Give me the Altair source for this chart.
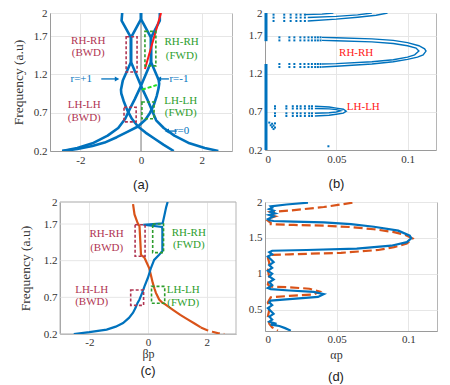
import altair as alt
import pandas as pd

BLUE = "#0072BD"
ORANGE = "#D95319"
DARKRED = "#b03552"
GREEN = "#2e9e2e"
FRAME = "#b5b5b5"
GRID = "#e6e6e6"
SERIF = "Liberation Serif, Times New Roman, DejaVu Serif, serif"
SANS = "Liberation Sans, Arial, sans-serif"

# ---------------- panel (a): dispersion braid ----------------
A_S1 = [(-2.6, 0.2), (-2.1, 0.225), (-1.6, 0.265), (-1.2, 0.31), (-0.8, 0.38), (-0.45, 0.45),
        (-0.1, 0.52), (0.15, 0.61), (0.3, 0.7), (0.42, 0.8), (0.52, 0.92), (0.58, 1.02),
        (0.6, 1.08), (0.58, 1.13), (0.33, 1.36), (0.33, 1.68), (0.62, 1.9), (0.62, 2.0)]
A_S2 = [(1.08, 0.2), (0.75, 0.28), (0.45, 0.36), (0.15, 0.44), (-0.1, 0.52), (-0.3, 0.62),
        (-0.45, 0.73), (-0.57, 0.85), (-0.65, 0.95), (-0.66, 1.0), (-0.6, 1.12), (-0.33, 1.36),
        (-0.33, 1.68), (-0.64, 1.9), (-0.62, 2.0)]
A_S3 = [(0.0, 2.0), (0.0, 1.92), (0.33, 1.68), (0.33, 1.36), (0.0, 1.05), (-0.2, 0.88),
        (-0.38, 0.74), (-0.52, 0.62), (-0.75, 0.5), (-1.1, 0.4), (-1.6, 0.3), (-2.1, 0.24), (-2.6, 0.2)]
A_S4 = [(0.0, 2.0), (0.0, 1.92), (-0.33, 1.68), (-0.33, 1.36), (0.0, 1.05), (0.2, 0.88),
        (0.35, 0.74), (0.5, 0.6), (0.75, 0.5), (1.1, 0.4), (1.6, 0.3), (2.1, 0.24), (2.55, 0.2)]
A_RED = [(0.13, 1.27), (0.66, 2.0)]
A_GREEN = [(0.03, 1.0), (0.52, 1.06)]
# boxes: x0, x1, f0, f1, colour key
A_BOXES = [(-0.49, -0.13, 1.23, 1.69, "r"), (0.13, 0.49, 1.31, 1.76, "g"),
           (-0.56, -0.16, 0.58, 0.77, "r"), (0.03, 0.43, 0.62, 0.84, "g")]
A_LABELS = [("RH-RH", -1.74, 1.63, "r"), ("(BWD)", -1.74, 1.48, "r"),
            ("RH-RH", 1.34, 1.62, "g"), ("(FWD)", 1.34, 1.44, "g"),
            ("LH-LH", -1.87, 0.80, "r"), ("(BWD)", -1.87, 0.63, "r"),
            ("LH-LH", 1.31, 0.85, "g"), ("(FWD)", 1.31, 0.70, "g"),
            ("r=+1", -1.97, 1.14, "b"), ("r=-1", 1.25, 1.14, "b"), ("r=0", 1.34, 0.46, "b")]
# arrows: tail x, tip x, f
A_ARROWS = [(-1.31, -0.79, 1.14), (0.92, 0.59, 1.14), (1.18, 0.85, 0.46)]

# ---------------- panel (b): attenuation dots ----------------
B_RH_OUTER = [(0.04, 1.68), (0.05, 1.675), (0.075, 1.66), (0.09, 1.64), (0.1, 1.61), (0.108, 1.57),
              (0.112, 1.53), (0.113, 1.5), (0.111, 1.45), (0.107, 1.42), (0.1, 1.39), (0.09, 1.36),
              (0.075, 1.33), (0.05, 1.30), (0.04, 1.29)]
B_RH_INNER = [(0.04, 1.64), (0.05, 1.635), (0.075, 1.62), (0.09, 1.60), (0.1, 1.57), (0.106, 1.54),
              (0.108, 1.5), (0.105, 1.45), (0.1, 1.42), (0.09, 1.385), (0.075, 1.36), (0.05, 1.335),
              (0.04, 1.33)]
B_TOP_A = [(0.03, 1.895), (0.05, 1.92), (0.065, 1.945), (0.078, 1.97), (0.086, 2.0)]
B_TOP_B = [(0.03, 1.94), (0.05, 1.955), (0.065, 1.975), (0.075, 2.0)]
B_TOP_C = [(0.028, 1.978), (0.04, 1.985), (0.048, 2.0)]
B_LH_OUTER = [(0.035, 0.775), (0.045, 0.765), (0.05, 0.75), (0.055, 0.735), (0.057, 0.71),
              (0.055, 0.685), (0.05, 0.67), (0.045, 0.657), (0.035, 0.647)]
B_LH_INNER = [(0.035, 0.745), (0.045, 0.74), (0.05, 0.73), (0.053, 0.715), (0.05, 0.70),
              (0.045, 0.69), (0.035, 0.682)]
B_ROW_ALPHA_RH = [0.0101, 0.0171, 0.0206, 0.0248, 0.0277, 0.0305, 0.0329, 0.0352, 0.0371, 0.039]
B_ROW_F_RH = [1.68, 1.64, 1.33, 1.29]
B_ROW_ALPHA_TOP = [0.006, 0.0135, 0.018, 0.022, 0.025, 0.028]
B_ROW_F_TOP = [1.895, 1.94, 1.978]
B_ROW_ALPHA_LH = [0.007, 0.015, 0.0195, 0.0225, 0.025, 0.028, 0.031, 0.033]
B_ROW_F_LH = [0.775, 0.745, 0.682, 0.647]
B_EXTRA_DOTS = [(0.003, 0.56), (0.005, 0.545), (0.007, 0.55), (0.004, 0.525), (0.006, 0.52),
                (0.005, 0.5), (0.007, 0.495), (0.006, 0.475), (0.0445, 0.249)]
B_ZERO_SEGMENTS = [(0.2, 1.33), (1.63, 2.0)]
B_LABELS = [("RH-RH", 0.064, 1.475), ("LH-LH", 0.069, 0.765)]

# ---------------- panel (c): selected branches ----------------
C_BLUE = [(-2.53, 0.2), (-2.0, 0.225), (-1.41, 0.26), (-1.1, 0.3), (-0.85, 0.35), (-0.65, 0.42),
          (-0.51, 0.49), (-0.42, 0.56), (-0.36, 0.62), (-0.29, 0.67), (-0.2, 0.76), (-0.12, 0.85),
          (0.0, 0.97), (0.1, 1.1), (0.21, 1.21), (0.38, 1.28), (0.49, 1.33), (0.49, 1.62),
          (0.48, 1.66), (-0.16, 1.69), (0.5, 1.71), (0.56, 1.82), (0.62, 1.93), (0.67, 2.0)]
C_ORANGE = [(-0.51, 1.97), (-0.46, 1.83), (-0.35, 1.71), (-0.29, 1.67), (-0.26, 1.45), (-0.24, 1.28),
            (-0.12, 1.24), (0.04, 1.1), (0.1, 1.0), (0.16, 0.9), (0.22, 0.82), (0.27, 0.76),
            (0.33, 0.71), (0.38, 0.67), (0.48, 0.63), (0.6, 0.6), (0.85, 0.53), (1.1, 0.46),
            (1.35, 0.4), (1.6, 0.34), (1.8, 0.29)]
C_ORANGE_TAIL = [(1.8, 0.29), (2.0, 0.255), (2.2, 0.23), (2.4, 0.21), (2.6, 0.2)]
C_BOXES = [(-0.44, -0.1, 1.26, 1.69, "r"), (0.16, 0.53, 1.31, 1.70, "g"),
           (-0.59, -0.15, 0.59, 0.80, "r"), (0.12, 0.57, 0.62, 0.85, "g")]
C_LABELS = [("RH-RH", -1.41, 1.56, "r"), ("(BWD)", -1.41, 1.37, "r"),
            ("RH-RH", 1.39, 1.58, "g"), ("(FWD)", 1.39, 1.41, "g"),
            ("LH-LH", -1.92, 0.80, "r"), ("(BWD)", -1.92, 0.64, "r"),
            ("LH-LH", 1.2, 0.80, "g"), ("(FWD)", 1.2, 0.62, "g")]

# ---------------- panel (d): attenuation curves ----------------
D_BLUE = [(0.030, 1.99), (0.015, 1.965), (0.004, 1.94), (0.005, 1.92), (0.003, 1.9), (0.006, 1.88),
          (0.004, 1.86), (0.007, 1.84), (0.003, 1.82), (0.006, 1.8), (0.004, 1.78), (0.002, 1.76),
          (0.003, 1.745), (0.006, 1.735), (0.02, 1.725), (0.041, 1.715), (0.06, 1.69), (0.076, 1.655),
          (0.093, 1.6), (0.101, 1.53), (0.102, 1.495), (0.099, 1.44), (0.088, 1.39), (0.064, 1.35),
          (0.029, 1.33), (0.005, 1.32), (0.003, 1.3), (0.005, 1.27), (0.002, 1.24), (0.004, 1.2),
          (0.006, 1.16), (0.003, 1.12), (0.005, 1.08), (0.002, 1.04), (0.005, 1.0), (0.003, 0.96),
          (0.006, 0.92), (0.003, 0.88), (0.005, 0.84), (0.002, 0.8), (0.004, 0.785), (0.017, 0.765),
          (0.034, 0.745), (0.041, 0.715), (0.037, 0.675), (0.017, 0.645), (0.004, 0.625), (0.003, 0.6),
          (0.005, 0.56), (0.002, 0.52), (0.004, 0.48), (0.006, 0.44), (0.003, 0.4), (0.005, 0.36),
          (0.003, 0.33), (0.008, 0.3), (0.004, 0.29), (0.01, 0.27), (0.014, 0.24), (0.018, 0.205)]
D_ORANGE = [(0.061, 1.99), (0.041, 1.93), (0.017, 1.88), (0.004, 1.86), (0.006, 1.84), (0.003, 1.82),
            (0.007, 1.8), (0.004, 1.78), (0.005, 1.76), (0.002, 1.74), (0.004, 1.71), (0.004, 1.69),
            (0.02, 1.68), (0.041, 1.67), (0.06, 1.65), (0.076, 1.62), (0.09, 1.58), (0.098, 1.54),
            (0.103, 1.49), (0.099, 1.42), (0.09, 1.37), (0.079, 1.33), (0.053, 1.29), (0.017, 1.27),
            (0.003, 1.26), (0.002, 1.22), (0.003, 1.15), (0.002, 1.05), (0.003, 0.95), (0.002, 0.85),
            (0.004, 0.82), (0.017, 0.81), (0.031, 0.79), (0.038, 0.75), (0.034, 0.71), (0.017, 0.69),
            (0.004, 0.67), (0.002, 0.6), (0.003, 0.5), (0.002, 0.4), (0.003, 0.3), (0.005, 0.25),
            (0.009, 0.205)]

F_TICKS_ABC = [0.2, 0.7, 1.2, 1.7, 2]
F_TICKS_D = [0.5, 1, 1.5, 2]
BETA_TICKS = [-2, 0, 2]
ALPHA_TICKS = [0, 0.05, 0.1]

COLORS = {"r": DARKRED, "g": GREEN, "b": BLUE}


def lines_df(strands):
    rows = []
    for name, pts in strands.items():
        for i, (x, f) in enumerate(pts):
            rows.append({"s": name, "i": i, "x": x, "f": f})
    return pd.DataFrame(rows)


def boxes_df(boxes):
    return pd.DataFrame([{"x0": a, "x1": b, "f0": c, "f1": d, "c": COLORS[k]} for a, b, c, d, k in boxes])


def labels_df(labels):
    return pd.DataFrame([{"t": t, "x": x, "f": f, "c": COLORS[k]} for t, x, f, k in labels])


YF = alt.Scale(domain=[0.2, 2], nice=False, zero=False)
XA = alt.Scale(domain=[0, 0.12], nice=False, zero=False)
XB = alt.Scale(domain=[-3, 3], nice=False, zero=False)
# panel (c): plot frame starts 10 px to the right of the column origin
C_W = 186
C_SHIFT = 10
XC = alt.Scale(domain=[-3, 3], nice=False, zero=False, range=[C_SHIFT, C_W])


def xenc(field, scale, ticks, title=None, titlex=None, tpad=0, lpad=3):
    kw = dict(values=ticks, labelExpr="datum.value", grid=True, ticks=False, labelPadding=lpad)
    if title:
        kw["title"] = title
        kw["titlePadding"] = tpad
        kw["titleFontSize"] = 12
        if titlex is not None:
            kw["titleX"] = titlex
    else:
        kw["title"] = None
    return alt.X(field, type="quantitative", scale=scale, axis=alt.Axis(**kw))


def yenc(field, ticks, title=None, tpad=8, lpad=3, grid=True, offset=0):
    kw = dict(values=ticks, labelExpr="datum.value", grid=grid, ticks=False, labelPadding=lpad)
    if offset:
        kw["offset"] = offset
    if title:
        kw["title"] = title
        kw["titlePadding"] = tpad
    else:
        kw["title"] = None
    return alt.Y(field, type="quantitative", scale=YF, axis=alt.Axis(**kw))


def caption(txt, offset, dx=0):
    return alt.TitleParams(txt, orient="bottom", font=SANS, fontSize=13, fontWeight="normal",
                           color="#222", offset=offset, dx=dx)


LABEL_FS = 11

# ---------- (a) ----------
XS_A = lambda f: xenc(f, XB, BETA_TICKS)
YS_A = lambda f: yenc(f, F_TICKS_ABC, "Frequency (a.u)", 8)

a_zero = alt.Chart(pd.DataFrame({"x": [0.0], "f0": [0.2], "f1": [2.0]})).mark_rule(
    color="#a8a8a8", strokeWidth=1.5).encode(x=XS_A("x"), y=YS_A("f0"), y2="f1")
a_lines = alt.Chart(lines_df({"s1": A_S1, "s2": A_S2, "s3": A_S3, "s4": A_S4})).mark_line(
    color=BLUE, strokeWidth=2.6, clip=True, strokeJoin="round").encode(
    x=XS_A("x"), y=YS_A("f"), detail="s:N", order="i:Q")
a_red = alt.Chart(lines_df({"r": A_RED})).mark_line(color="#ff1a1a", strokeWidth=2, clip=True).encode(
    x=XS_A("x"), y=YS_A("f"), order="i:Q")
a_green = alt.Chart(lines_df({"g": A_GREEN})).mark_line(color="#22dd22", strokeWidth=2,
                                                        strokeDash=[4, 2]).encode(
    x=XS_A("x"), y=YS_A("f"), order="i:Q")
a_boxes = alt.Chart(boxes_df(A_BOXES)).mark_rect(fillOpacity=0, strokeWidth=1.6, strokeDash=[3, 2]).encode(
    x=XS_A("x0"), x2="x1", y=YS_A("f0"), y2="f1", stroke=alt.Stroke("c:N", scale=None))
a_text = alt.Chart(labels_df(A_LABELS)).mark_text(font=SERIF, fontSize=LABEL_FS).encode(
    x=XS_A("x"), y=YS_A("f"), text="t:N", color=alt.Color("c:N", scale=None))
arrow_df = pd.DataFrame([{"x0": a, "x1": b, "f": f, "shape": "triangle-right" if b > a else "triangle-left"}
                         for a, b, f in A_ARROWS])
a_shaft = alt.Chart(arrow_df).mark_rule(color=BLUE, strokeWidth=1.3).encode(
    x=XS_A("x0"), x2="x1", y=YS_A("f"))
a_head = alt.Chart(arrow_df).mark_point(color=BLUE, filled=True, size=26, opacity=1).encode(
    x=XS_A("x1"), y=YS_A("f"), shape=alt.Shape("shape:N", scale=None))

chart_a = alt.layer(a_zero, a_lines, a_red, a_green, a_boxes, a_text, a_shaft, a_head).properties(
    width=182, height=138, title=caption("(a)", 14))

# ---------- (b) ----------
XS_B = lambda f: xenc(f, XA, ALPHA_TICKS)
YS_B = lambda f: yenc(f, F_TICKS_ABC)

b_zero = alt.Chart(pd.DataFrame([{"x": 0.0007, "f0": a, "f1": b} for a, b in B_ZERO_SEGMENTS])).mark_rule(
    color=BLUE, strokeWidth=3).encode(x=XS_B("x"), y=YS_B("f0"), y2="f1")
b_lines = alt.Chart(lines_df({"o": B_RH_OUTER, "n": B_RH_INNER, "ta": B_TOP_A, "tb": B_TOP_B,
                              "tc": B_TOP_C, "lo": B_LH_OUTER, "li": B_LH_INNER})).mark_line(
    color=BLUE, strokeWidth=1.4, clip=True).encode(x=XS_B("x"), y=YS_B("f"), detail="s:N", order="i:Q")
dots = []
for fr in B_ROW_F_RH:
    dots += [(a, fr) for a in B_ROW_ALPHA_RH]
for fr in B_ROW_F_TOP:
    dots += [(a, fr) for a in B_ROW_ALPHA_TOP]
for fr in B_ROW_F_LH:
    dots += [(a, fr) for a in B_ROW_ALPHA_LH]
dots += B_EXTRA_DOTS
b_dots = alt.Chart(pd.DataFrame(dots, columns=["x", "f"])).mark_square(
    color=BLUE, size=4, opacity=1).encode(x=XS_B("x"), y=YS_B("f"))
b_text = alt.Chart(pd.DataFrame(B_LABELS, columns=["t", "x", "f"])).mark_text(
    font=SERIF, fontSize=LABEL_FS, color="#ff2020").encode(x=XS_B("x"), y=YS_B("f"), text="t:N")
chart_b = alt.layer(b_zero, b_lines, b_dots, b_text).properties(
    width=171, height=137, title=caption("(b)", 14, -14))

# ---------- (c) ----------
XS_C = lambda f: xenc(f, XC, BETA_TICKS, "βp", None, 1, 2)
YS_C = lambda f: yenc(f, F_TICKS_ABC, "Frequency (a.u)", 11, 3, False, -C_SHIFT)

c_frame = alt.Chart(pd.DataFrame({"k": [0]})).mark_rect(
    fillOpacity=0, stroke=FRAME, strokeWidth=1).encode(
    x=alt.value(C_SHIFT), x2=alt.value(C_W), y=alt.value(0), y2=alt.value(132))
c_grid = alt.Chart(pd.DataFrame({"f": F_TICKS_ABC})).mark_rule(color=GRID, strokeWidth=1).encode(
    y=YS_C("f"), x=alt.value(C_SHIFT), x2=alt.value(C_W))
c_blue = alt.Chart(lines_df({"b": C_BLUE})).mark_line(color=BLUE, strokeWidth=2.2, clip=True).encode(
    x=XS_C("x"), y=YS_C("f"), order="i:Q")
c_orange = alt.Chart(lines_df({"o": C_ORANGE})).mark_line(color=ORANGE, strokeWidth=2.2, clip=True).encode(
    x=XS_C("x"), y=YS_C("f"), order="i:Q")
c_tail = alt.Chart(lines_df({"t": C_ORANGE_TAIL})).mark_line(color=ORANGE, strokeWidth=2.2,
                                                            strokeDash=[8, 4], clip=True).encode(
    x=XS_C("x"), y=YS_C("f"), order="i:Q")
c_boxes = alt.Chart(boxes_df(C_BOXES)).mark_rect(fillOpacity=0, strokeWidth=1.6, strokeDash=[3, 2]).encode(
    x=XS_C("x0"), x2="x1", y=YS_C("f0"), y2="f1", stroke=alt.Stroke("c:N", scale=None))
c_text = alt.Chart(labels_df(C_LABELS)).mark_text(font=SERIF, fontSize=LABEL_FS).encode(
    x=XS_C("x"), y=YS_C("f"), text="t:N", color=alt.Color("c:N", scale=None))
chart_c = alt.layer(c_grid, c_frame, c_orange, c_tail, c_blue, c_boxes, c_text).properties(
    width=C_W, height=132, title=caption("(c)", 6, 5),
    view=alt.ViewBackground(stroke="transparent"))

# ---------- (d) ----------
XS_D = lambda f: xenc(f, XA, ALPHA_TICKS, "αp", 71, 5, 2)
YS_D = lambda f: yenc(f, F_TICKS_D, None, 8, 3)

d_blue = alt.Chart(lines_df({"b": D_BLUE})).mark_line(color=BLUE, strokeWidth=2.2, clip=True).encode(
    x=XS_D("x"), y=YS_D("f"), order="i:Q")
d_orange = alt.Chart(lines_df({"o": D_ORANGE})).mark_line(color=ORANGE, strokeWidth=2.2,
                                                         strokeDash=[9, 4], clip=True).encode(
    x=XS_D("x"), y=YS_D("f"), order="i:Q")
chart_d = alt.layer(d_orange, d_blue).properties(width=172, height=129, title=caption("(d)", 11, -15))

chart = alt.concat(chart_a, chart_b, chart_c, chart_d, columns=2, align="none",
                   spacing={"row": 2, "column": 10}).properties(
    padding={"left": 2, "top": -2, "right": 0, "bottom": 0}).configure_axis(
    labelFont=SERIF, labelFontSize=11, labelColor="#333", titleFont=SERIF, titleFontSize=13.5,
    titleFontWeight="normal", titleColor="#333", gridColor=GRID, domainColor="#9a9a9a",
).configure_view(stroke=FRAME)

chart.save("out.html", embed_options={"renderer": "svg", "actions": False})
